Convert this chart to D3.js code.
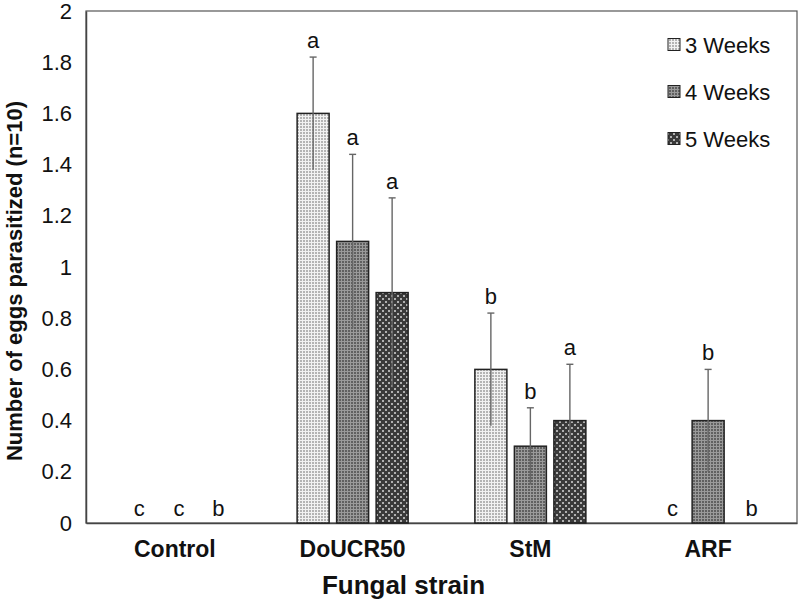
<!DOCTYPE html>
<html>
<head>
<meta charset="utf-8">
<script src="https://cdn.jsdelivr.net/npm/d3@7/dist/d3.min.js"></script>
<style>
  body { margin: 0; background: #fff; }
  text { font-family: "Liberation Sans", Arial, sans-serif; fill: #111; }
</style>
</head>
<body>
<svg id="chart" width="800" height="600"></svg>
<script>
const categories = ["Control", "DoUCR50", "StM", "ARF"];
const seriesNames = ["3 Weeks", "4 Weeks", "5 Weeks"];
const weeks3 = [0, 1.6, 0.6, 0];
const weeks4 = [0, 1.1, 0.3, 0.4];
const weeks5 = [0, 0.9, 0.4, 0];
const err3 = [0, 0.22, 0.22, 0];
const err4 = [0, 0.34, 0.15, 0.2];
const err5 = [0, 0.37, 0.22, 0];
const letters3 = ["c", "a", "b", "c"];
const letters4 = ["c", "a", "b", "b"];
const letters5 = ["b", "a", "a", "b"];
const yTicks = [0, 0.2, 0.4, 0.6, 0.8, 1, 1.2, 1.4, 1.6, 1.8, 2];

const values = [weeks3, weeks4, weeks5];
const errors = [err3, err4, err5];
const letters = [letters3, letters4, letters5];

const svg = d3.select("#chart");
const mLeft = 86, mRight = 797, mTop = 11, mBottom = 523;

const x0 = d3.scaleBand().domain(categories).range([mLeft, mRight])
  .paddingInner(0.3755).paddingOuter(0.18775);
const x1 = d3.scaleBand().domain(seriesNames).range([0, x0.bandwidth()])
  .paddingInner(0.19).paddingOuter(0);
const y = d3.scaleLinear().domain([0, 2]).range([mBottom, mTop]);

// patterns
const defs = svg.append("defs");
const p1 = defs.append("pattern").attr("id", "pat3").attr("patternUnits", "userSpaceOnUse")
  .attr("width", 3).attr("height", 3);
p1.append("rect").attr("width", 3).attr("height", 3).attr("fill", "#f2f2f2");
p1.append("rect").attr("width", 2).attr("height", 2).attr("fill", "#b4b4b4");

const p2 = defs.append("pattern").attr("id", "pat4").attr("patternUnits", "userSpaceOnUse")
  .attr("width", 3).attr("height", 3);
p2.append("rect").attr("width", 3).attr("height", 3).attr("fill", "#9a9a9a");
p2.append("rect").attr("width", 2).attr("height", 2).attr("fill", "#606060");

const p3 = defs.append("pattern").attr("id", "pat5").attr("patternUnits", "userSpaceOnUse")
  .attr("width", 6).attr("height", 6);
p3.append("rect").attr("width", 6).attr("height", 6).attr("fill", "#3a3a3a");
p3.append("rect").attr("x", 1).attr("y", 1).attr("width", 2).attr("height", 2).attr("fill", "#b0b0b0");
p3.append("rect").attr("x", 4).attr("y", 4).attr("width", 2).attr("height", 2).attr("fill", "#b0b0b0");
const fills = ["url(#pat3)", "url(#pat4)", "url(#pat5)"];

// frame
svg.append("rect").attr("x", mLeft).attr("y", mTop).attr("width", mRight - mLeft).attr("height", mBottom - mTop)
  .attr("fill", "none").attr("stroke", "#555").attr("stroke-width", 1.2);

// y axis
const yAxis = d3.axisLeft(y).tickValues(yTicks).tickSize(0).tickPadding(14)
  .tickFormat(d => d3.format("~g")(d));
const yg = svg.append("g").attr("transform", `translate(${mLeft},0)`).call(yAxis);
yg.select(".domain").attr("stroke", "#444").attr("stroke-width", 1.5);
yg.selectAll("text").style("font-size", "22px").style("font-family", "Liberation Sans, Arial, sans-serif").attr("fill", "#111");

// x axis
const xAxis = d3.axisBottom(x0).tickSize(0).tickPadding(18);
const xg = svg.append("g").attr("transform", `translate(0,${mBottom})`).call(xAxis);
xg.select(".domain").attr("stroke", "#444").attr("stroke-width", 1.5);
xg.selectAll("text").style("font-size", "23px").style("font-weight", "bold")
  .style("font-family", "Liberation Sans, Arial, sans-serif").attr("fill", "#111");

// bars
seriesNames.forEach((s, si) => {
  const g = svg.append("g");
  categories.forEach((c, ci) => {
    const v = values[si][ci];
    const bx = x0(c) + x1(s);
    const bw = x1.bandwidth();
    if (v > 0) {
      g.append("rect").attr("x", bx).attr("y", y(v)).attr("width", bw).attr("height", y(0) - y(v))
        .attr("fill", fills[si]).attr("stroke", "#222").attr("stroke-width", 1.5);
      const e = errors[si][ci];
      const cx = bx + bw / 2;
      g.append("line").attr("x1", cx).attr("x2", cx).attr("y1", y(v - e)).attr("y2", y(v + e))
        .attr("stroke", "#666").attr("stroke-width", 1.4);
      g.append("line").attr("x1", cx - 3.5).attr("x2", cx + 3.5).attr("y1", y(v + e)).attr("y2", y(v + e))
        .attr("stroke", "#666").attr("stroke-width", 1.4);
      g.append("text").attr("x", cx).attr("y", y(v + e) - 9).attr("text-anchor", "middle")
        .style("font-size", "22px").text(letters[si][ci]);
    } else {
      g.append("text").attr("x", bx + bw / 2 + 4).attr("y", y(0) - 7).attr("text-anchor", "middle")
        .style("font-size", "22px").text(letters[si][ci]);
    }
  });
});

// legend
const leg = svg.append("g");
seriesNames.forEach((s, i) => {
  const ly = 44.5 + i * 47;
  leg.append("rect").attr("x", 668).attr("y", ly - 6).attr("width", 12).attr("height", 12)
    .attr("fill", fills[i]).attr("stroke", "#222").attr("stroke-width", 1);
  leg.append("text").attr("x", 685).attr("y", ly + 8).style("font-size", "22px").text(s);
});

// axis titles
svg.append("text").attr("x", (mLeft + mRight) / 2 - 38).attr("y", 594).attr("text-anchor", "middle")
  .style("font-size", "26px").style("font-weight", "bold").text("Fungal strain");
svg.append("text").attr("transform", `translate(22,${(mTop + mBottom) / 2 + 14}) rotate(-90)`)
  .attr("text-anchor", "middle").style("font-size", "22px").style("font-weight", "bold")
  .text("Number of eggs parasitized (n=10)");
</script>
</body>
</html>
